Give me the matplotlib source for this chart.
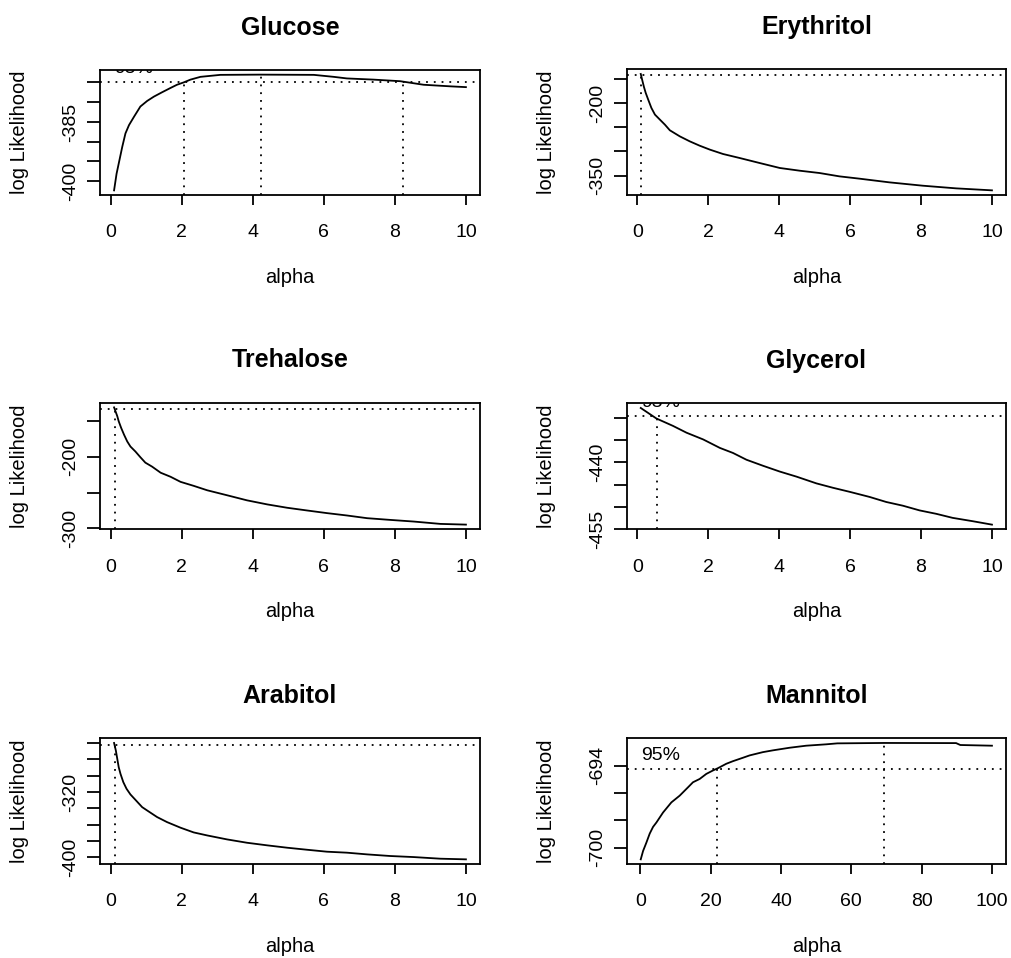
import matplotlib
matplotlib.use("Agg")
import matplotlib.pyplot as plt
import matplotlib.transforms as mtransforms
from matplotlib.ticker import FixedLocator

plt.rcParams['font.family'] = ['Liberation Sans', 'DejaVu Sans']

# Profile log-likelihood of the shape parameter alpha, one curve per substrate
glucose_alpha = [0.1, 0.17, 0.25, 0.33, 0.42, 0.52, 0.66, 0.84, 1.03, 1.22, 1.45,
                 1.69, 1.87, 2.06, 2.25, 2.53, 3.09, 4.22, 5.72, 6.28, 6.65, 7.4,
                 8.15, 8.81, 9.56, 10.0]
glucose_ll = [-402.3, -398.1, -394.7, -391.3, -387.9, -385.8, -383.7, -381.1,
              -379.7, -378.6, -377.5, -376.4, -375.6, -375.0, -374.3, -373.6,
              -373.1, -373.04, -373.1, -373.6, -374.0, -374.3, -374.7, -375.6,
              -376.0, -376.2]
glucose_ci = [2.08, 8.22]
glucose_peak = 4.22

erythritol_alpha = [0.1, 0.15, 0.19, 0.24, 0.31, 0.4, 0.5, 0.64, 0.78, 0.92, 1.2,
                    1.48, 1.76, 2.05, 2.42, 2.89, 3.45, 4.02, 4.58, 5.14, 5.7,
                    6.27, 7.11, 8.05, 8.99, 10.0]
erythritol_ll = [-139.8, -154.9, -166.6, -179.0, -192.8, -210.0, -223.8, -234.2,
                 -244.5, -256.2, -268.7, -279.0, -288.0, -296.2, -305.2, -313.5,
                 -323.8, -334.1, -339.7, -344.5, -351.4, -356.2, -363.8, -370.7,
                 -376.2, -380.3]
erythritol_ci = [0.1]

trehalose_alpha = [0.1, 0.19, 0.23, 0.3, 0.38, 0.47, 0.56, 0.7, 0.84, 0.98, 1.17,
                   1.41, 1.69, 1.97, 2.34, 2.72, 3.28, 3.84, 4.41, 4.97, 5.53,
                   6.09, 6.65, 7.22, 7.87, 8.53, 9.28, 10.0]
trehalose_ll = [-130.6, -142.9, -150.0, -159.4, -168.8, -178.3, -185.4, -192.4,
                -200.4, -208.0, -213.6, -222.1, -227.8, -234.9, -240.5, -246.7,
                -253.7, -260.8, -266.5, -271.2, -275.0, -278.7, -282.0, -285.8,
                -288.2, -290.5, -293.8, -294.8]
trehalose_ci = [0.12]

glycerol_alpha = [0.1, 0.54, 1.01, 1.39, 1.86, 2.33, 2.7, 3.08, 3.55, 4.02, 4.49,
                  5.05, 5.52, 5.99, 6.55, 7.02, 7.49, 7.96, 8.43, 8.89, 9.46, 10.0]
glycerol_ll = [-427.7, -430.07, -431.75, -433.28, -434.8, -436.71, -437.85,
               -439.38, -440.75, -442.05, -443.19, -444.71, -445.71, -446.62,
               -447.77, -448.91, -449.75, -450.81, -451.58, -452.49, -453.25,
               -454.02]
glycerol_ci = [0.56]

arabitol_alpha = [0.1, 0.15, 0.19, 0.23, 0.28, 0.36, 0.45, 0.56, 0.7, 0.89, 1.03,
                  1.31, 1.59, 1.97, 2.34, 2.72, 3.28, 3.84, 4.41, 4.97, 5.53,
                  6.09, 6.65, 7.22, 7.87, 8.53, 9.28, 10.0]
arabitol_ll = [-259.7, -269.0, -279.2, -289.4, -297.6, -307.9, -316.0, -323.0,
               -329.6, -338.6, -342.7, -350.8, -357.0, -363.9, -369.7, -373.4,
               -378.3, -382.4, -385.6, -388.5, -391.0, -393.4, -394.6, -396.7,
               -398.7, -400.0, -402.0, -402.8]
arabitol_ci = [0.12]

mannitol_alpha = [0.1, 0.76, 1.7, 2.65, 3.6, 4.55, 6.44, 8.81, 11.17, 13.54, 14.96,
                  16.86, 18.75, 20.64, 22.07, 24.43, 26.33, 29.17, 31.06, 34.85,
                  37.69, 42.42, 47.16, 52.84, 56.0, 69.4, 89.8, 91.0, 100.0]
mannitol_ll = [-700.85, -700.24, -699.63, -698.97, -698.48, -698.16, -697.43,
               -696.69, -696.2, -695.59, -695.22, -694.98, -694.61, -694.36,
               -694.19, -693.87, -693.68, -693.43, -693.26, -693.02, -692.89,
               -692.7, -692.55, -692.45, -692.38, -692.35, -692.36, -692.5,
               -692.55]
mannitol_ci = [21.8]
mannitol_peak = 69.4

ticks_0_10 = [0, 2, 4, 6, 8, 10]
ticks_0_100 = [0, 20, 40, 60, 80, 100]

# half of the 95% chi-square(1) quantile
HALF_CHISQ95 = 3.841459 / 2

panels = [
    dict(title="Glucose", alpha=glucose_alpha, ll=glucose_ll, ci=glucose_ci,
         peak=glucose_peak, xticks=ticks_0_10,
         yticks=[-400, -395, -390, -385, -380, -375], ylab=[-400, -385]),
    dict(title="Erythritol", alpha=erythritol_alpha, ll=erythritol_ll,
         ci=erythritol_ci, peak=None, xticks=ticks_0_10,
         yticks=[-350, -300, -250, -200, -150], ylab=[-350, -200]),
    dict(title="Trehalose", alpha=trehalose_alpha, ll=trehalose_ll,
         ci=trehalose_ci, peak=None, xticks=ticks_0_10,
         yticks=[-300, -250, -200, -150], ylab=[-300, -200]),
    dict(title="Glycerol", alpha=glycerol_alpha, ll=glycerol_ll, ci=glycerol_ci,
         peak=None, xticks=ticks_0_10,
         yticks=[-455, -450, -445, -440, -435, -430], ylab=[-455, -440]),
    dict(title="Arabitol", alpha=arabitol_alpha, ll=arabitol_ll, ci=arabitol_ci,
         peak=None, xticks=ticks_0_10,
         yticks=[-400, -380, -360, -340, -320, -300, -280, -260],
         ylab=[-400, -320]),
    dict(title="Mannitol", alpha=mannitol_alpha, ll=mannitol_ll, ci=mannitol_ci,
         peak=mannitol_peak, xticks=ticks_0_100,
         yticks=[-700, -698, -696, -694], ylab=[-700, -694]),
]

W, H = 1012, 958
# plot boxes in pixels: left, top, right, bottom
boxes = [
    (100, 70, 480, 195), (626.7, 69.3, 1006, 195),
    (100, 402.7, 480, 529.3), (626.7, 403.3, 1006, 529.3),
    (100, 738.3, 480, 864), (626.7, 738.3, 1006, 864),
]

LW = 1.3
DOT = (0, (1, 3.3))

fig = plt.figure(figsize=(W / 100, H / 100), dpi=100)
fig.patch.set_facecolor("white")

for p, (l, t, r, b) in zip(panels, boxes):
    ax = fig.add_axes([l / W, 1 - b / H, (r - l) / W, (b - t) / H])
    ax.plot(p["alpha"], p["ll"], color="black", lw=LW, solid_joinstyle="round")
    ax.margins(x=0.04, y=0.04)
    ax.autoscale_view()
    x0, x1 = ax.get_xlim()
    y0, y1 = ax.get_ylim()
    ax.set_xlim(x0, x1)
    ax.set_ylim(y0, y1)

    top = max(p["ll"])
    lim = top - HALF_CHISQ95
    ax.axhline(lim, color="black", lw=LW, ls=DOT, dash_capstyle="butt")
    for xc in p["ci"]:
        ax.plot([xc, xc], [y0, lim], color="black", lw=LW, ls=DOT,
                dash_capstyle="butt")
    if p["peak"] is not None:
        ax.plot([p["peak"], p["peak"]], [y0, top], color="black", lw=LW,
                ls=DOT, dash_capstyle="butt")

    # "95%" label sitting just above the confidence line, clipped to the box
    shift = mtransforms.ScaledTranslation(0, 6.5 / 72, fig.dpi_scale_trans)
    lbl = ax.text(p["alpha"][0], lim, "95%", transform=ax.transData + shift,
                  ha="left", va="baseline", fontsize=14, clip_on=True)
    lbl.set_clip_path(ax.patch)

    for s in ax.spines.values():
        s.set_linewidth(LW)
        s.set_color("black")

    ax.xaxis.set_major_locator(FixedLocator(p["xticks"]))
    ax.set_xticklabels([f"{v:g}" for v in p["xticks"]])
    ax.yaxis.set_major_locator(FixedLocator(p["yticks"]))
    ax.set_yticklabels([str(v) if v in p["ylab"] else "" for v in p["yticks"]],
                       rotation=90, va="center")
    ax.tick_params(axis="x", length=7.2, width=LW, pad=14, labelsize=14)
    ax.tick_params(axis="y", length=9.2, width=LW, pad=5.8, labelsize=14)

    hpx = b - t
    ax.set_xlabel("alpha", fontsize=14.5)
    ax.xaxis.set_label_coords(0.5, -82.5 / hpx)
    ax.xaxis.label.set_va("center")
    ax.set_ylabel("log Likelihood", fontsize=14.5)
    ax.yaxis.set_label_coords(-80 / (r - l), 0.5)
    ax.yaxis.label.set_va("center")

    ax.set_title(p["title"], fontsize=18, fontweight="bold",
                 y=1 + 35.5 / hpx, va="baseline", pad=0)

fig.savefig("out.png", dpi=100, facecolor="white")
